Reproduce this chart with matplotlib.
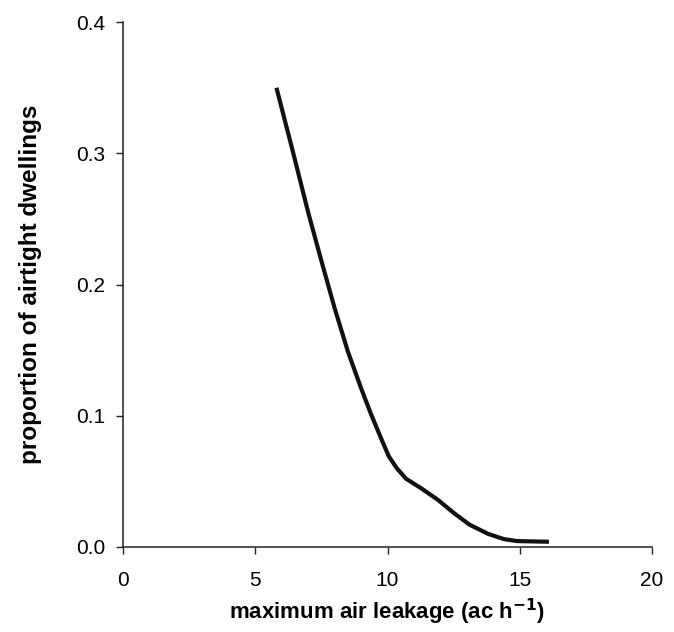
import matplotlib
matplotlib.use("Agg")
import matplotlib.pyplot as plt

plt.rcParams['font.family'] = ['Liberation Sans', 'DejaVu Sans']

# curve
leakage = [5.8, 6.4, 7.0, 7.5, 8.0, 8.5, 9.0, 9.36, 9.73, 10.05, 10.35, 10.7, 11.25, 11.9, 12.5, 13.1, 13.8, 14.4, 14.9, 16.1]
proportion = [0.350, 0.303, 0.255, 0.218, 0.182, 0.149, 0.121, 0.102, 0.084, 0.069, 0.060, 0.052, 0.045, 0.036, 0.026, 0.017, 0.010, 0.006, 0.0045, 0.004]

xticks = [0, 5, 10, 15, 20]
yticks = [0.0, 0.1, 0.2, 0.3, 0.4]

fig = plt.figure(figsize=(6.74, 6.32), dpi=100)
ax = fig.add_axes([0.1825, 0.1345, 0.785, 0.8305])

ax.plot(leakage, proportion, color='#111111', linewidth=3,
        solid_capstyle='butt', solid_joinstyle='round')

ax.set_xlim(0, 20)
ax.set_ylim(0, 0.4)
ax.set_xticks(xticks)
ax.set_yticks(yticks)
ax.set_xticklabels([str(t) for t in xticks])
ax.set_yticklabels(['%.1f' % t for t in yticks])

ax.spines['top'].set_visible(False)
ax.spines['right'].set_visible(False)
for s in ['left', 'bottom']:
    ax.spines[s].set_linewidth(1.1)
    ax.spines[s].set_color('#222222')
ax.tick_params(direction='out', length=5, width=1, color='#222222', labelsize=15)
ax.tick_params(axis='x', pad=12)
ax.tick_params(axis='y', pad=8)

ax.set_xlabel('maximum air leakage (ac h$^{\\mathbf{-1}}$)', fontsize=16, fontweight='bold', labelpad=5)
ax.set_ylabel('proportion of airtight dwellings', fontsize=17.5, fontweight='bold', labelpad=24)

fig.savefig('out.png', dpi=100)
